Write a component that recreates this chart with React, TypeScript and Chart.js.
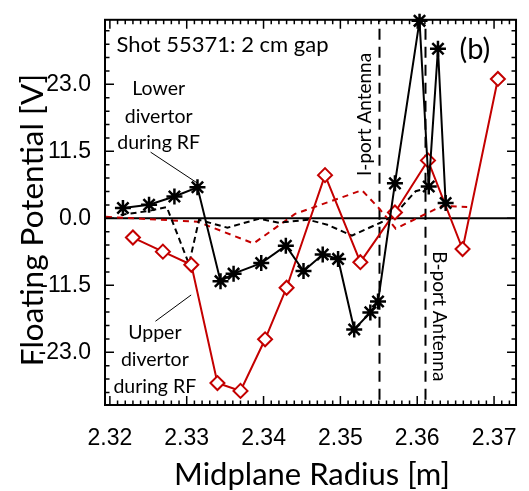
import { useEffect, useRef } from "react";
import { Chart, registerables } from "chart.js";
Chart.register(...registerables);

// Lower divertor during RF (black asterisks, solid)
const lowerR = [2.3217, 2.3251, 2.3284, 2.3314, 2.3344, 2.3361, 2.3397, 2.3429, 2.3452, 2.3477, 2.3497, 2.3518, 2.3539, 2.3549, 2.3571, 2.3603, 2.3615, 2.3627, 2.3637];
const lowerV = [1.78, 2.33, 3.75, 5.33, -10.79, -9.5, -7.69, -4.7, -9.05, -6.22, -6.97, -19.08, -16.15, -14.29, 6.0, 33.9, 5.45, 29.1, 2.62];

// Upper divertor during RF (red diamonds, solid)
const upperR = [2.323, 2.3269, 2.3306, 2.334, 2.337, 2.3402, 2.343, 2.348, 2.3526, 2.3571, 2.3614, 2.3659, 2.3705];
const upperV = [-3.3, -5.72, -7.98, -28.28, -29.63, -20.77, -11.92, 7.41, -7.53, 1.01, 9.94, -5.28, 23.93];

// Reference (black dashed)
const blackDashR = [2.3214, 2.3251, 2.3274, 2.3303, 2.3316, 2.3353, 2.3394, 2.342, 2.3458, 2.3483, 2.3515, 2.3552, 2.3569, 2.3598, 2.3616];
const blackDashV = [0.59, 1.27, 1.94, -7.86, -0.25, -1.61, -0.08, -0.76, -0.25, -1.1, -2.96, -0.76, 0.42, 4.65, 5.33];

// Reference (red dashed)
const redDashR = [2.3195, 2.3314, 2.3387, 2.3441, 2.3528, 2.3551, 2.3572, 2.3632, 2.3665];
const redDashV = [0.25, -0.59, -4.31, 0.76, 4.82, 1.61, -1.78, 2.11, 1.94];

const xTicks = [2.32, 2.33, 2.34, 2.35, 2.36, 2.37];
const yTicks = [-23.0, -11.5, 0.0, 11.5, 23.0];
const xMinorStep = 0.001;
const yMinorStep = 2.3;

const antennaR = [2.355, 2.361];
const antennaLabels = ["I-port Antenna", "B-port Antenna"];

const X_MIN = 2.319365;
const X_MAX = 2.372859;
const Y_MIN = -32.05;
const Y_MAX = 34.08;

const RED = "#c40000";
const LABEL_FONT = "Lato";

const pts = (xs: number[], ys: number[]) => xs.map((x, i) => ({ x, y: ys[i] }));

const decor = {
  id: "decor",
  beforeDatasetsDraw(chart: any) {
    const { ctx, chartArea: a, scales } = chart;
    const x = scales.x;
    const y = scales.y;
    ctx.save();
    ctx.beginPath();
    ctx.rect(a.left, a.top, a.right - a.left, a.bottom - a.top);
    ctx.clip();
    ctx.strokeStyle = "#000";
    ctx.lineWidth = 2;
    const y0 = y.getPixelForValue(0);
    ctx.beginPath();
    ctx.moveTo(a.left, y0);
    ctx.lineTo(a.right, y0);
    ctx.stroke();
    ctx.setLineDash([11, 7]);
    ctx.lineDashOffset = -9;
    antennaR.forEach((r) => {
      const px = Math.round(x.getPixelForValue(r)) + 0.5;
      ctx.beginPath();
      ctx.moveTo(px, a.top);
      ctx.lineTo(px, a.bottom);
      ctx.stroke();
    });
    ctx.restore();
  },
  afterDraw(chart: any) {
    const { ctx, chartArea: a, scales } = chart;
    const x = scales.x;
    const y = scales.y;
    ctx.save();
    ctx.strokeStyle = "#000";
    ctx.fillStyle = "#000";
    ctx.lineWidth = 2;
    ctx.strokeRect(a.left, a.top, a.right - a.left, a.bottom - a.top);
    ctx.lineWidth = 1.5;
    const MAJ = 9;
    const MIN = 4.5;
    ctx.beginPath();
    const i0 = Math.ceil(X_MIN / xMinorStep - 1e-6);
    const i1 = Math.floor(X_MAX / xMinorStep + 1e-6);
    for (let i = i0; i <= i1; i++) {
      const v = i * xMinorStep;
      const major = xTicks.some((t) => Math.abs(t - v) < 1e-7);
      const len = major ? MAJ : MIN;
      const px = x.getPixelForValue(v);
      ctx.moveTo(px, a.bottom);
      ctx.lineTo(px, a.bottom - len);
      ctx.moveTo(px, a.top);
      ctx.lineTo(px, a.top + len);
    }
    const j0 = Math.ceil(Y_MIN / yMinorStep - 1e-6);
    const j1 = Math.floor(Y_MAX / yMinorStep + 1e-6);
    for (let j = j0; j <= j1; j++) {
      const v = j * yMinorStep;
      const major = j % 5 === 0;
      const len = major ? MAJ : MIN;
      const py = y.getPixelForValue(v);
      ctx.moveTo(a.left, py);
      ctx.lineTo(a.left + len, py);
      ctx.moveTo(a.right, py);
      ctx.lineTo(a.right - len, py);
    }
    ctx.stroke();

    const text = (s: string, xv: number, yv: number, size: number, align: CanvasTextAlign, rot = 0, baseline: CanvasTextBaseline = "alphabetic") => {
      ctx.save();
      ctx.translate(x.getPixelForValue(xv), y.getPixelForValue(yv));
      ctx.rotate(rot);
      ctx.font = `${size}px ${LABEL_FONT}`;
      ctx.textAlign = align;
      ctx.textBaseline = baseline;
      ctx.fillText(s, 0, 0);
      ctx.restore();
    };
    const line = (x1: number, y1: number, x2: number, y2: number) => {
      ctx.save();
      ctx.lineWidth = 1;
      ctx.beginPath();
      ctx.moveTo(x.getPixelForValue(x1), y.getPixelForValue(y1));
      ctx.lineTo(x.getPixelForValue(x2), y.getPixelForValue(y2));
      ctx.stroke();
      ctx.restore();
    };

    text("Shot 55371: 2 cm gap", 2.32085, 28.55, 22, "left");
    text("(b)", 2.36549, 27.3, 29, "left");

    text("Lower", 2.32635, 21.1, 19.5, "center");
    text("divertor", 2.32635, 16.44, 19.5, "center");
    text("during RF", 2.32635, 11.92, 19.5, "center");
    line(2.3253, 11.36, 2.33144, 6.0);

    text("Upper", 2.32585, -20.72, 19.5, "center");
    text("divertor", 2.32585, -25.4, 19.5, "center");
    text("during RF", 2.32585, -29.97, 19.5, "center");
    line(2.32593, -17.67, 2.33058, -13.16);

    text(antennaLabels[0], 2.35323, 17.84, 19, "center", -Math.PI / 2, "middle");
    text(antennaLabels[1], 2.36289, -16.83, 19, "center", Math.PI / 2, "middle");

    ctx.font = `31px ${LABEL_FONT}`;
    ctx.textAlign = "center";
    ctx.textBaseline = "alphabetic";
    ctx.fillText("Midplane Radius [m]", 312, 485);
    ctx.save();
    ctx.translate(43, 220);
    ctx.rotate(-Math.PI / 2);
    ctx.font = `31.5px ${LABEL_FONT}`;
    ctx.fillText("Floating Potential [V]", 0, 0);
    ctx.restore();
    ctx.restore();
  },
};

export default function App() {
  const ref = useRef<HTMLCanvasElement>(null);
  useEffect(() => {
    if (!ref.current) return;
    const chart = new Chart(ref.current, {
      type: "line",
      data: {
        datasets: [
          {
            data: pts(lowerR, lowerV),
            borderColor: "#000",
            borderWidth: 2,
            pointStyle: "star",
            pointRadius: 8,
            pointBorderWidth: 2.5,
            pointBorderColor: "#000",
            pointBackgroundColor: "#000",
            tension: 0,
            order: 1,
            clip: 6,
          },
          {
            data: pts(upperR, upperV),
            borderColor: RED,
            borderWidth: 2,
            pointStyle: "rectRot",
            pointRadius: 7,
            pointBorderWidth: 2,
            pointBorderColor: RED,
            pointBackgroundColor: "#fff",
            tension: 0,
            order: 2,
          },
          {
            data: pts(blackDashR, blackDashV),
            borderColor: "#000",
            borderWidth: 2,
            borderDash: [6, 4],
            pointRadius: 0,
            tension: 0,
            order: 3,
          },
          {
            data: pts(redDashR, redDashV),
            borderColor: RED,
            borderWidth: 2,
            borderDash: [6, 5],
            pointRadius: 0,
            tension: 0,
            order: 4,
          },
        ],
      },
      options: {
        animation: false,
        responsive: false,
        devicePixelRatio: 1,
        layout: { padding: { top: 14, right: 3, left: 0, bottom: 0 } },
        plugins: { legend: { display: false }, tooltip: { enabled: false }, title: { display: false } },
        scales: {
          x: {
            type: "linear",
            min: X_MIN,
            max: X_MAX,
            grid: { display: false },
            border: { display: false },
            afterBuildTicks: (s: any) => {
              s.ticks = xTicks.map((v) => ({ value: v }));
            },
            afterFit: (s: any) => {
              s.height = 86;
            },
            ticks: {
              autoSkip: false,
              maxRotation: 0,
              padding: 12,
              color: "#000",
              font: { family: "Liberation Sans", size: 23 },
              callback: (v: any) => Number(v).toFixed(2),
            },
          },
          y: {
            type: "linear",
            min: Y_MIN,
            max: Y_MAX,
            grid: { display: false },
            border: { display: false },
            afterBuildTicks: (s: any) => {
              s.ticks = yTicks.map((v) => ({ value: v }));
            },
            afterFit: (s: any) => {
              s.width = 105;
            },
            ticks: {
              autoSkip: false,
              padding: 6,
              color: "#000",
              font: { family: "Liberation Sans", size: 23 },
              callback: (v: any) => Number(v).toFixed(1),
            },
          },
        },
      },
      plugins: [decor],
    });
    return () => chart.destroy();
  }, []);
  return (
    <div style={{ position: "absolute", left: 0, top: 0, width: 529, height: 491, background: "#fff" }}>
      <canvas ref={ref} width={529} height={491} style={{ width: 529, height: 491 }} />
    </div>
  );
}
